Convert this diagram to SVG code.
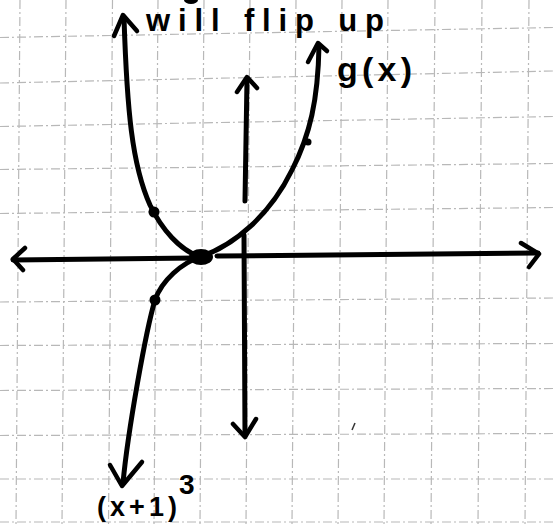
<svg xmlns="http://www.w3.org/2000/svg" width="554" height="524" viewBox="0 0 554 524">
  <style>
    .grid line { stroke: #b8b8b8; stroke-width: 1.2; stroke-dasharray: 9 3 2 3; fill: none; }
    .ink { stroke: #000; stroke-width: 5; fill: none; stroke-linecap: round; stroke-linejoin: round; }
    .head { stroke: #000; stroke-width: 4.5; fill: none; stroke-linecap: round; stroke-linejoin: round; }
    .dot { fill: #000; }
    .lbl { font-family: "Liberation Sans", Arial, sans-serif; font-weight: bold; fill: #000; }
  </style>
  <rect x="0" y="0" width="554" height="524" fill="#fff"/>

  <g id="grid" class="grid">
    <line x1="20" y1="0" x2="16" y2="524"/>
    <line x1="66" y1="0" x2="62" y2="524"/>
    <line x1="112.5" y1="0" x2="108.5" y2="524"/>
    <line x1="158" y1="0" x2="154" y2="524"/>
    <line x1="204" y1="0" x2="200" y2="524"/>
    <line x1="250" y1="0" x2="246" y2="524"/>
    <line x1="296" y1="0" x2="292" y2="524"/>
    <line x1="342" y1="0" x2="338" y2="524"/>
    <line x1="388" y1="0" x2="384" y2="524"/>
    <line x1="435" y1="0" x2="431" y2="524"/>
    <line x1="482" y1="0" x2="478" y2="524"/>
    <line x1="529" y1="0" x2="525" y2="524"/>
    <line x1="0" y1="37.5" x2="554" y2="27.5"/>
    <line x1="0" y1="83" x2="554" y2="71"/>
    <line x1="0" y1="126.5" x2="554" y2="116.5"/>
    <line x1="0" y1="169.5" x2="554" y2="163.5"/>
    <line x1="0" y1="213.5" x2="554" y2="207.5"/>
    <line x1="0" y1="302" x2="554" y2="298"/>
    <line x1="0" y1="345.5" x2="554" y2="343.5"/>
    <line x1="0" y1="390.5" x2="554" y2="388.5"/>
    <line x1="0" y1="435.5" x2="554" y2="433.5"/>
    <line x1="0" y1="479" x2="554" y2="479"/>
    <line x1="0" y1="522" x2="554" y2="522"/>
  </g>

  <g id="connectors">
    <g id="x-axis">
      <path class="ink" d="M13,260 L196,258"/>
      <path class="ink" d="M217,256 L538,253"/>
      <path class="head" d="M25,248 L13,259 L23,270"/>
      <path class="head" d="M521,243 L539,254 L529,267"/>
    </g>
    <g id="y-axis">
      <path class="ink" d="M245,201 L247,79"/>
      <path class="head" d="M237,92 L247,77 L257,88"/>
      <path class="ink" d="M244,235 L245,436"/>
      <path class="head" d="M233,424 L245,437 L256,419"/>
    </g>
  </g>

  <g id="curve-left">
    <path class="ink" d="M124,18 C127,110 132,165 150,205 C162,230 180,250 200,257"/>
    <path class="head" d="M114,36 L123,15 L137,31"/>
    <circle class="dot" cx="154" cy="212" r="5.5"/>
  </g>

  <g id="curve-g">
    <path class="ink" d="M200,257 C235,245 270,215 292,170 C310,135 318,100 319,46"/>
    <path class="head" d="M308,62 L318,43 L327,51"/>
    <circle class="dot" cx="308" cy="142" r="3.5"/>
  </g>

  <g id="curve-cubic">
    <path class="ink" d="M200,257 C182,263 162,280 155,300 C146,330 128,430 123,483"/>
    <path class="head" d="M110,465 L122,486 L142,462"/>
    <circle class="dot" cx="155" cy="300" r="5.5"/>
  </g>

  <g id="origin-point">
    <ellipse class="dot" cx="201" cy="257" rx="12" ry="8"/>
  </g>

  <g id="marks">
    <ellipse class="dot" cx="191" cy="0" rx="7" ry="4"/>
    <line x1="352" y1="430" x2="355" y2="423" stroke="#333" stroke-width="1.5"/>
  </g>

  <g id="labels">
    <text class="lbl" x="146" y="31" font-size="31" textLength="238" lengthAdjust="spacing">will flip up</text>
    <text class="lbl" x="337" y="81" font-size="34" textLength="75" lengthAdjust="spacing">g(x)</text>
    <text class="lbl" x="97" y="516" font-size="27" textLength="80" lengthAdjust="spacing">(x+1)</text>
    <text class="lbl" x="179" y="494" font-size="28">3</text>
  </g>
</svg>
